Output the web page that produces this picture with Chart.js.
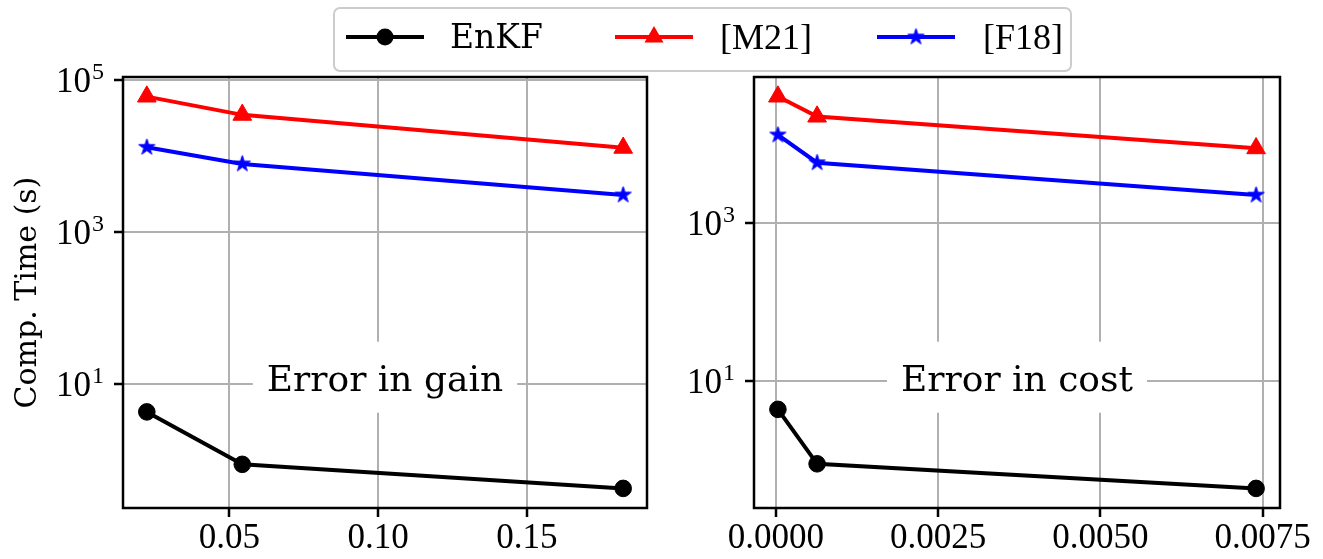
<!DOCTYPE html>
<html>
<head>
<meta charset="UTF-8">
<title>Comp. time vs error</title>
<script src="https://cdn.jsdelivr.net/npm/chart.js"></script>
<style>
  body { margin: 0; background: #fff; }
  .page { position: relative; width: 1323px; height: 559px; overflow: hidden; }
  canvas.plot { position: absolute; top: 0; }
  #cGain { left: 0; }
  #cCost { left: 660px; }
  .legend {
    position: absolute; left: 333px; top: 7px; width: 735px; height: 61px;
    border: 2px solid #cccccc; border-radius: 7px; background: rgba(255,255,255,0.8);
    font-family: "DejaVu Serif", serif; font-size: 33px; color: #000;
  }
  .legend canvas { position: absolute; top: 15px; }
  .legend span { position: absolute; top: 8px; line-height: 40px; }
  .legend span.br { font-family: "Liberation Serif", serif; font-size: 36px; }
</style>
</head>
<body>
<div class="page">
  <canvas id="cGain" class="plot" width="660" height="559"></canvas>
  <canvas id="cCost" class="plot" width="663" height="559"></canvas>
  <div class="legend" id="legend"></div>
</div>

<script>
// values
const seriesNames = ['EnKF', '[M21]', '[F18]'];

const gainX = [0.0222, 0.0543, 0.1824];
const gainEnKF = [4.24, 0.865, 0.417];
const gainM21 = [60000, 34500, 12700];
const gainF18 = [12900, 7800, 3040];

const costX = [0.00003, 0.000634, 0.0074];
const costEnKF = [4.39, 0.90, 0.44];
const costM21 = [39400, 22000, 8750];
const costF18 = [12900, 5750, 2240];

const gainTicks = [0.05, 0.10, 0.15];
const costTicks = [0, 0.0025, 0.005, 0.0075];
const yTicks = [10, 1000, 100000];

const colors = ['#000000', '#ff0000', '#0000ff'];
const numFont = '"Liberation Serif", serif';

// filled 5 point star, like matplotlib '*'
function starImage(color, R) {
  const c = document.createElement('canvas');
  const s = Math.ceil(R * 2 + 4);
  c.width = s; c.height = s;
  const g = c.getContext('2d');
  g.beginPath();
  for (let i = 0; i < 10; i++) {
    const r = i % 2 ? R * 0.382 : R;
    const a = -Math.PI / 2 + i * Math.PI / 5;
    g.lineTo(s / 2 + r * Math.cos(a), s / 2 + r * Math.sin(a));
  }
  g.closePath();
  g.fillStyle = color; g.fill();
  g.strokeStyle = color; g.lineWidth = 1; g.stroke();
  return c;
}
const star = starImage('#0000ff', 8.5);

function logRange(vals) {
  const l = vals.map(v => Math.log10(v));
  const lo = Math.min(...l), hi = Math.max(...l), m = (hi - lo) * 0.05;
  return [Math.pow(10, lo - m), Math.pow(10, hi + m)];
}
function linRange(vals) {
  const lo = Math.min(...vals), hi = Math.max(...vals), m = (hi - lo) * 0.05;
  return [lo - m, hi + m];
}

const boxLabel = {
  id: 'boxLabel',
  beforeDatasetsDraw(chart, args, opts) {
    const { ctx, chartArea: a } = chart;
    const cx = (a.left + a.right) / 2;
    const cy = a.top + 0.7 * (a.bottom - a.top);
    ctx.save();
    ctx.font = '36px "DejaVu Serif"';
    const w = ctx.measureText(opts.text).width;
    ctx.fillStyle = '#fff';
    ctx.fillRect(cx - w / 2 - 14, cy - 37, w + 28, 71);
    ctx.fillStyle = '#000';
    ctx.textAlign = 'center';
    ctx.textBaseline = 'alphabetic';
    ctx.fillText(opts.text, cx, cy + 12);
    ctx.restore();
  },
  afterDraw(chart) {
    const { ctx, chartArea: a } = chart;
    ctx.save();
    ctx.strokeStyle = '#000';
    ctx.lineWidth = 2.5;
    ctx.strokeRect(a.left, a.top, a.right - a.left, a.bottom - a.top);

    // log tick labels as 10 with a raised exponent
    const y = chart.scales.y;
    ctx.fillStyle = '#000';
    ctx.textAlign = 'right';
    ctx.textBaseline = 'alphabetic';
    y.ticks.forEach(t => {
      const py = y.getPixelForValue(t.value);
      const e = String(Math.round(Math.log10(t.value)));
      const xr = a.left - 19;
      ctx.font = '24px ' + numFont;
      const ew = ctx.measureText(e).width;
      ctx.fillText(e, xr, py - 1);
      ctx.font = '35px ' + numFont;
      ctx.fillText('10', xr - ew - 1, py + 12);
    });
    ctx.restore();
  }
};

function makeChart(id, xs, enkf, m21, f18, xTicks, dec, label, yWidth, padRight, showTitle) {
  const all = enkf.concat(m21, f18);
  const yr = logRange(all);
  const xr = linRange(xs);
  const pts = arr => arr.map((v, i) => ({ x: xs[i], y: v }));

  return new Chart(document.getElementById(id), {
    type: 'line',
    data: {
      datasets: [
        { label: seriesNames[0], data: pts(enkf), borderColor: colors[0], backgroundColor: colors[0],
          borderWidth: 4, pointStyle: 'circle', pointRadius: 8.3, pointBorderWidth: 1 },
        { label: seriesNames[1], data: pts(m21), borderColor: colors[1], backgroundColor: colors[1],
          borderWidth: 4, pointStyle: 'triangle', pointRadius: 10.8, pointBorderWidth: 1 },
        { label: seriesNames[2], data: pts(f18), borderColor: colors[2], backgroundColor: colors[2],
          borderWidth: 4, pointStyle: star, pointRadius: 9 }
      ]
    },
    options: {
      responsive: false,
      animation: false,
      layout: { padding: { top: 77, right: padRight, bottom: 0, left: 0 } },
      datasets: { line: { tension: 0, clip: false } },
      plugins: { legend: { display: false }, tooltip: { enabled: false }, boxLabel: { text: label } },
      scales: {
        x: {
          type: 'linear', min: xr[0], max: xr[1],
          afterBuildTicks: s => { s.ticks = xTicks.map(v => ({ value: v })); },
          afterFit: s => { s.height = 51; },
          ticks: { callback: v => Number(v).toFixed(dec), font: { family: numFont, size: 35 },
                   color: '#000', padding: 1, maxRotation: 0, autoSkip: false },
          grid: { color: '#b0b0b0', lineWidth: 2, tickColor: '#000', tickLength: 9, tickWidth: 2.5 },
          border: { display: false }
        },
        y: {
          type: 'logarithmic', min: yr[0], max: yr[1],
          afterBuildTicks: s => {
            s.ticks = yTicks.filter(v => v >= s.min && v <= s.max).map(v => ({ value: v }));
          },
          afterFit: s => { s.width = yWidth; },
          ticks: { display: false },
          grid: { color: '#b0b0b0', lineWidth: 2, tickColor: '#000', tickLength: 9, tickWidth: 2.5 },
          border: { display: false },
          title: { display: showTitle, text: 'Comp. Time (s)', color: '#000',
                   font: { family: '"DejaVu Serif", serif', size: 30 }, padding: { top: 10, bottom: 0 } }
        }
      }
    },
    plugins: [boxLabel]
  });
}

makeChart('cGain', gainX, gainEnKF, gainM21, gainF18, gainTicks, 2, 'Error in gain', 123, 11, true);
makeChart('cCost', costX, costEnKF, costM21, costF18, costTicks, 4, 'Error in cost', 94, 43, false);

// shared legend across both panels
const legendX = [11, 280, 542];
const textX = [115, 385, 648];
const legend = document.getElementById('legend');
seriesNames.forEach((name, i) => {
  const c = document.createElement('canvas');
  c.width = 78; c.height = 26;
  c.style.left = legendX[i] + 'px';
  const g = c.getContext('2d');
  g.strokeStyle = colors[i]; g.fillStyle = colors[i]; g.lineWidth = 4;
  g.beginPath(); g.moveTo(0, 13); g.lineTo(78, 13); g.stroke();
  if (i === 0) {
    g.beginPath(); g.arc(39, 13, 8.5, 0, Math.PI * 2); g.fill();
  } else if (i === 1) {
    const r = 11;
    g.beginPath();
    g.moveTo(39, 13 - r);
    g.lineTo(39 + r * Math.sin(2 * Math.PI / 3), 13 - r * Math.cos(2 * Math.PI / 3));
    g.lineTo(39 + r * Math.sin(4 * Math.PI / 3), 13 - r * Math.cos(4 * Math.PI / 3));
    g.closePath(); g.fill();
  } else {
    g.drawImage(star, 39 - star.width / 2, 13 - star.height / 2);
  }
  legend.appendChild(c);
  const t = document.createElement('span');
  t.textContent = name;
  t.style.left = textX[i] + 'px';
  if (i > 0) t.className = 'br';
  legend.appendChild(t);
});
</script>
</body>
</html>
